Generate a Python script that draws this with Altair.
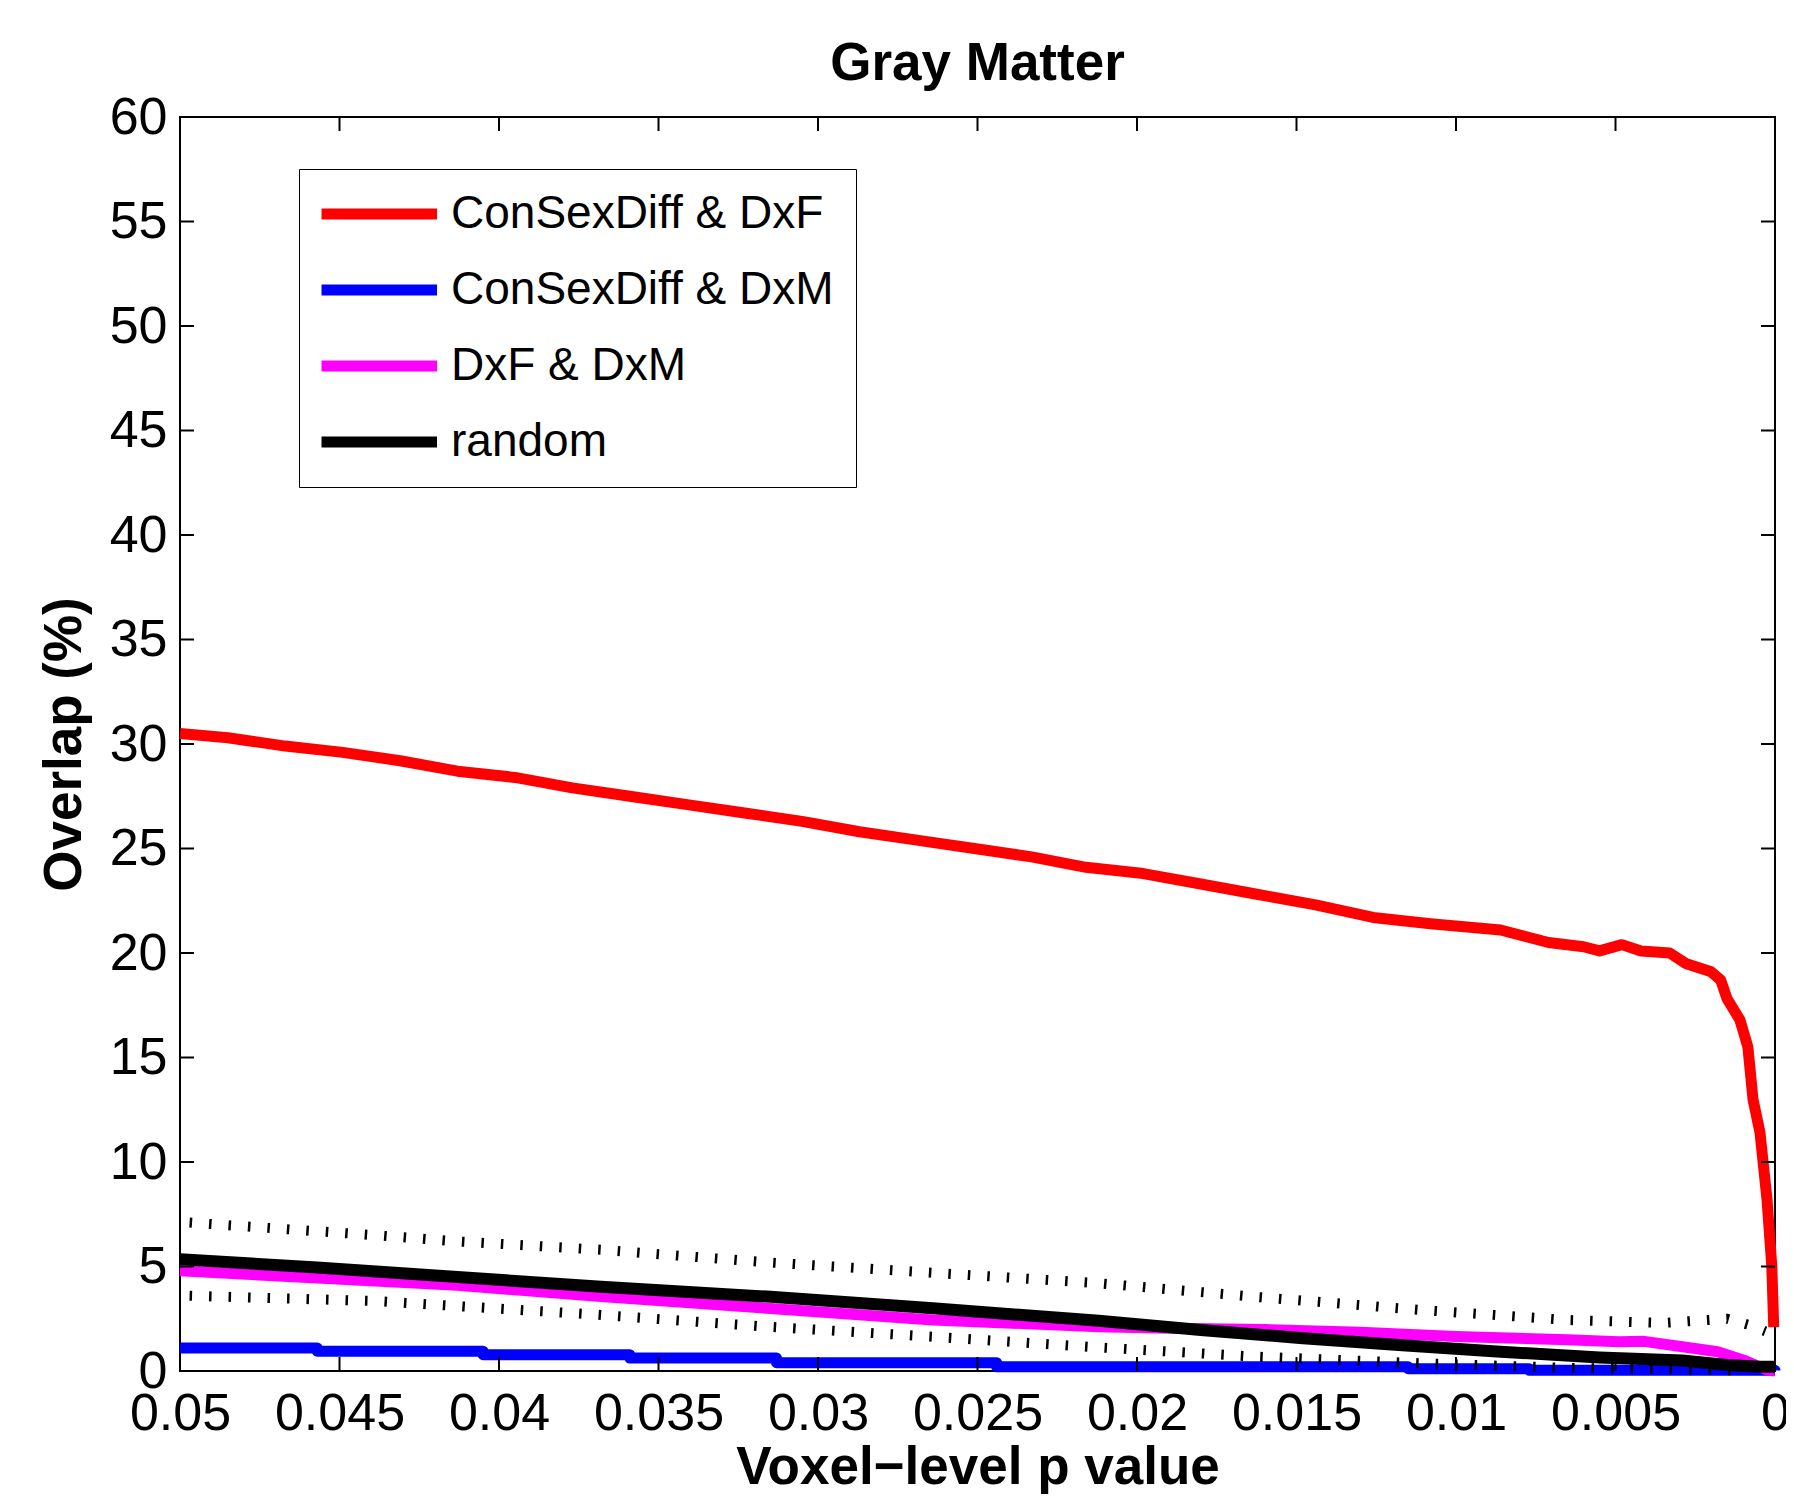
import altair as alt
import pandas as pd

# ---- data ----
series_names = ["ConSexDiff & DxF", "ConSexDiff & DxM", "DxF & DxM", "random"]
series_colors = ["#ff0000", "#0000ff", "#ff00ff", "#000000"]

red_p = [0.05, 0.0485, 0.0467, 0.0449, 0.0431, 0.0413, 0.0395, 0.0377, 0.0359, 0.0341,
         0.0323, 0.0305, 0.0287, 0.0269, 0.0251, 0.0233, 0.0216, 0.0198, 0.018, 0.0162,
         0.0144, 0.0126, 0.0108, 0.0086, 0.0071, 0.006, 0.0055, 0.0048, 0.0042, 0.0033,
         0.0028, 0.0020, 0.0017, 0.0015, 0.0011, 0.00085, 0.00069, 0.00047, 0.00025,
         0.0001, 0.00004]
red_v = [30.5, 30.3, 29.9, 29.6, 29.2, 28.7, 28.4, 27.9, 27.5, 27.1,
         26.7, 26.3, 25.8, 25.4, 25.0, 24.6, 24.1, 23.8, 23.3, 22.8,
         22.3, 21.7, 21.4, 21.1, 20.5, 20.3, 20.1, 20.4, 20.1, 20.0,
         19.5, 19.1, 18.7, 17.8, 16.8, 15.5, 13.0, 11.4, 8.2,
         5.0, 2.1]

blue_p = [0.05, 0.0457, 0.0405, 0.0359, 0.0313, 0.0244, 0.0115, 0.0077, 0.0]
blue_v = [1.1, 0.95, 0.78, 0.62, 0.4, 0.2, 0.11, 0.03, 0.02]

mag_p = [0.05, 0.0457, 0.0413, 0.0368, 0.0316, 0.0264, 0.0212, 0.019, 0.016, 0.013,
         0.010, 0.0065, 0.0049, 0.0041, 0.0029, 0.0018, 0.001, 0.00025, 0.0]
mag_v = [4.8, 4.45, 4.1, 3.56, 3.0, 2.44, 2.12, 2.05, 1.98, 1.85,
         1.65, 1.5, 1.4, 1.42, 1.16, 0.92, 0.53, 0.05, 0.0]

blk_p = [0.05, 0.0457, 0.0413, 0.0368, 0.0316, 0.0264, 0.0212, 0.018, 0.0149, 0.0118,
         0.0086, 0.0055, 0.0029, 0.0015, 0.0005, 0.0]
blk_v = [5.35, 4.95, 4.5, 4.03, 3.56, 3.0, 2.4, 1.96, 1.58, 1.24,
         0.92, 0.65, 0.5, 0.29, 0.2, 0.2]

up_p = [0.0497, 0.0439, 0.0413, 0.0368, 0.0316, 0.0264, 0.0212, 0.0163, 0.0111, 0.0065,
        0.0035, 0.0015, 0.0008, 0.0003]
up_v = [7.1, 6.5, 6.2, 5.8, 5.2, 4.7, 4.2, 3.55, 2.92, 2.44,
        2.3, 2.5, 2.2, 1.9]

lo_p = [0.0497, 0.0439, 0.0370, 0.0316, 0.0264, 0.0212, 0.0163, 0.0111, 0.0065, 0.003, 0.001]
lo_v = [3.6, 3.35, 2.7, 2.12, 1.64, 1.13, 0.69, 0.37, 0.15, 0.08, 0.03]

x_ticks = [0.05, 0.045, 0.04, 0.035, 0.03, 0.025, 0.02, 0.015, 0.01, 0.005, 0.0]
y_ticks = [0, 5, 10, 15, 20, 25, 30, 35, 40, 45, 50, 55, 60]

# ---- tables ----
def frame(ps, vs, name):
    return pd.DataFrame({"p": ps, "v": vs, "series": name})

lines = pd.concat([
    frame(red_p, red_v, series_names[0]),
    frame(blue_p, blue_v, series_names[1]),
    frame(mag_p, mag_v, series_names[2]),
    frame(blk_p, blk_v, series_names[3]),
], ignore_index=True)
bounds = pd.concat([frame(up_p, up_v, "upper"), frame(lo_p, lo_v, "lower")], ignore_index=True)
xt_df = pd.DataFrame({"p": x_ticks})
yt_df = pd.DataFrame({"v": y_ticks})

W, H = 1595, 1254
FONT = "Liberation Sans"
xs = alt.Scale(domain=[0.05, 0.0], nice=False, zero=False)
ys = alt.Scale(domain=[0, 60], nice=False)

legend = alt.Legend(
    title=None, orient="none", legendX=119, legendY=52,
    symbolType="M-1.5,0H6.2", symbolStrokeWidth=11, symbolSize=900,
    labelFont=FONT, labelFontSize=46, labelColor="black", labelOffset=84,
    padding=22, rowPadding=30, strokeColor="black", fillColor="white",
    labelLimit=800,
)
color = alt.Color("series:N", scale=alt.Scale(domain=series_names, range=series_colors),
                  legend=legend)

x_axis = alt.Axis(values=x_ticks, format="~g", title="Voxel\u2212level p value",
                  titleFont=FONT, titleFontSize=53, titleFontWeight="bold", titleColor="black",
                  titleY=112, titleBaseline="alphabetic",
                  labelFont=FONT, labelFontSize=52, labelColor="black", labelPadding=17,
                  labelFlush=False, labelOverlap=False, domain=False, ticks=False, grid=False)
y_axis = alt.Axis(values=y_ticks, format="d", title="Overlap (%)",
                  titleFont=FONT, titleFontSize=53, titleFontWeight="bold", titleColor="black",
                  titleX=-100, titleBaseline="alphabetic",
                  labelFont=FONT, labelFontSize=52, labelColor="black", labelPadding=13,
                  labelFlush=False, labelOverlap=False, domain=False, ticks=False, grid=False)

X = alt.X("p:Q", scale=xs, axis=x_axis, title="Voxel\u2212level p value")
Y = alt.Y("v:Q", scale=ys, axis=y_axis, title="Overlap (%)")

base = alt.Chart(lines)

def series_layer(name, width, interp="linear"):
    return base.transform_filter(alt.datum.series == name).mark_line(
        strokeWidth=width, interpolate=interp, strokeJoin="round"
    ).encode(x=X, y=Y, color=color)

red = series_layer(series_names[0], 11)
blue = series_layer(series_names[1], 11, "step-after")
mag = series_layer(series_names[2], 11)
blk = series_layer(series_names[3], 12)

dashed = alt.Chart(bounds).mark_line(
    color="black", strokeWidth=10, strokeDash=[2.5, 17], strokeCap="butt"
).encode(x=X, y=Y, detail="series:N")

tick_style = dict(color="black", strokeWidth=2)
left_t = alt.Chart(yt_df).mark_rule(**tick_style).encode(
    y=Y, x=alt.value(0), x2=alt.value(14))
right_t = alt.Chart(yt_df).mark_rule(**tick_style).encode(
    y=Y, x=alt.value(W - 14), x2=alt.value(W))
bottom_t = alt.Chart(xt_df).mark_rule(**tick_style).encode(
    x=X, y=alt.value(H - 14), y2=alt.value(H))
top_t = alt.Chart(xt_df).mark_rule(**tick_style).encode(
    x=X, y=alt.value(0), y2=alt.value(14))

chart = alt.layer(red, blue, mag, blk, dashed, left_t, right_t, bottom_t, top_t).properties(
    width=W, height=H,
    title=alt.TitleParams("Gray Matter", font=FONT, fontSize=53, fontWeight="bold",
                          color="black", anchor="middle", offset=0),
    autosize=alt.AutoSizeParams(type="none"),
    padding={"left": 172, "top": 109, "right": 11, "bottom": 123},
).configure(background="white").configure_view(stroke="black", strokeWidth=2)

chart.save("out.html", embed_options={"renderer": "svg", "actions": False})
